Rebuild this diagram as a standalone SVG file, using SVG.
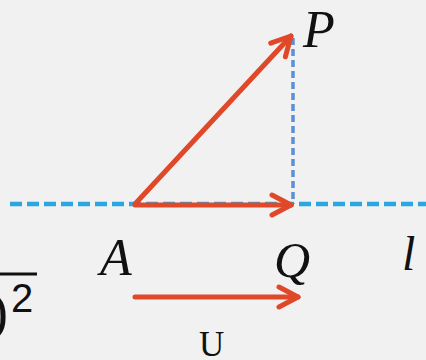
<svg xmlns="http://www.w3.org/2000/svg" width="426" height="360" viewBox="0 0 426 360">
<style>
.vec{stroke:#e0482a;stroke-width:5;fill:none;stroke-linecap:round}
.lbl{font-family:"Liberation Serif",serif;font-style:italic;fill:#111}
</style>
<defs>
<marker id="ah" markerUnits="userSpaceOnUse" markerWidth="30" markerHeight="30" refX="22" refY="12" orient="auto" viewBox="0 0 30 24">
<path d="M3,2 L22,12 L3,22" fill="none" stroke="#e0482a" stroke-width="5" stroke-linecap="round" stroke-linejoin="round"/>
</marker>
</defs>
<rect width="426" height="360" fill="#f1f1f1"/>
<g id="connectors">
<line x1="10" y1="204" x2="426" y2="204" stroke="#2aa7e0" stroke-width="4.5" stroke-dasharray="12,5"/>
<line x1="293" y1="38" x2="293" y2="204" stroke="#5b8fd8" stroke-width="3.5" stroke-dasharray="7,4"/>
<line class="vec" x1="135" y1="204" x2="291" y2="36" marker-end="url(#ah)"/>
<line class="vec" x1="135" y1="205" x2="291" y2="205" marker-end="url(#ah)"/>
<line class="vec" x1="135" y1="297" x2="298" y2="297" marker-end="url(#ah)"/>
</g>
<g id="P"><text class="lbl" x="303" y="47" font-size="52">P</text></g>
<g id="A"><text class="lbl" x="100" y="275" font-size="52">A</text></g>
<g id="Q"><text class="lbl" x="274" y="277" font-size="50">Q</text></g>
<g id="l"><text class="lbl" x="402" y="270" font-size="48">l</text></g>
<g id="formula">
<line x1="0" y1="274" x2="37" y2="274" stroke="#111" stroke-width="3"/>
<text x="-10" y="330" font-family="Liberation Serif,serif" font-size="54" fill="#111">)</text>
<text x="11" y="312" font-family="Liberation Sans,sans-serif" font-size="40" fill="#111">2</text>
</g>
<g id="U"><text x="199" y="356" font-family="Liberation Serif,serif" font-size="35" fill="#111">U</text></g>
</svg>
